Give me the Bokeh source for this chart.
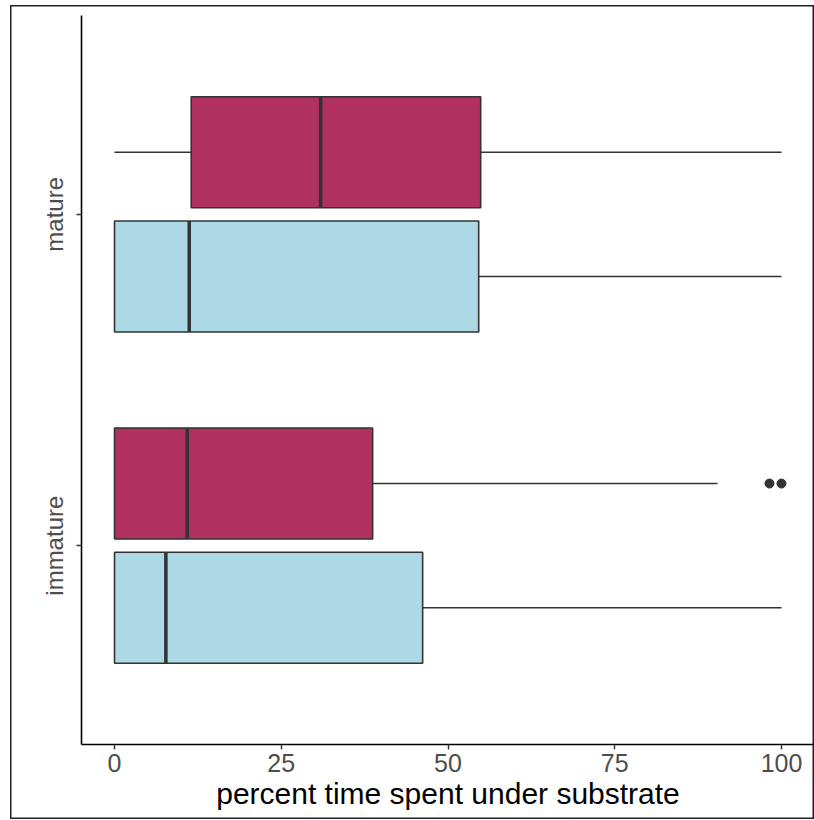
from bokeh.plotting import figure
from bokeh.models import FactorRange, Range1d, FixedTicker, ColumnDataSource, Spacer
from bokeh.layouts import column, row
from bokeh.transform import dodge
from bokeh.embed import file_html
from bokeh.resources import INLINE

# ---- data ----
groups = ["immature", "mature"]

crimson_lower = [0.0, 0.0]
crimson_q1 = [0.0, 11.5]
crimson_median = [10.9, 30.9]
crimson_q3 = [38.7, 54.9]
crimson_upper = [90.4, 100.0]
crimson_outlier_group = ["immature", "immature"]
crimson_outlier_values = [98.2, 100.0]

blue_lower = [0.0, 0.0]
blue_q1 = [0.0, 0.0]
blue_median = [7.7, 11.2]
blue_q3 = [46.2, 54.6]
blue_upper = [100.0, 100.0]

x_ticks = [0, 25, 50, 75, 100]

# ---- styling ----
CRIMSON = "#B03060"
LIGHTBLUE = "#ADD8E6"
EDGE = "#333333"
BOX_H = 0.335
OFFSET = 0.1875

p = figure(
    width=804, height=814,
    y_range=FactorRange(factors=groups, range_padding=0.1),
    x_range=Range1d(-4.95, 104.95),
    output_backend="svg", toolbar_location=None,
    min_border_left=71, min_border_top=10, min_border_right=0, min_border_bottom=75,
)
p.styles = {"box-shadow": "inset 0 0 0 1.5px #222222", "background-color": "white"}
p.outline_line_color = None
p.xgrid.grid_line_color = None
p.ygrid.grid_line_color = None
p.background_fill_color = None
p.border_fill_color = None

def draw_series(lower, q1, med, q3, upper, off, fill):
    src = ColumnDataSource(dict(group=groups, lower=lower, q1=q1, med=med, q3=q3, upper=upper))
    yc = dodge("group", off, range=p.y_range)
    y_lo = dodge("group", off - BOX_H / 2, range=p.y_range)
    y_hi = dodge("group", off + BOX_H / 2, range=p.y_range)
    # whiskers
    p.segment(x0="lower", x1="q1", y0=yc, y1=yc, source=src, line_color=EDGE, line_width=1.6)
    p.segment(x0="q3", x1="upper", y0=yc, y1=yc, source=src, line_color=EDGE, line_width=1.6)
    # box
    p.hbar(y=yc, left="q1", right="q3", height=BOX_H, source=src,
           fill_color=fill, line_color=EDGE, line_width=1.6)
    # median
    p.segment(x0="med", x1="med", y0=y_lo, y1=y_hi, source=src, line_color=EDGE, line_width=3.5)

draw_series(crimson_lower, crimson_q1, crimson_median, crimson_q3, crimson_upper, OFFSET, CRIMSON)
draw_series(blue_lower, blue_q1, blue_median, blue_q3, blue_upper, -OFFSET, LIGHTBLUE)

out_src = ColumnDataSource(dict(group=crimson_outlier_group, x=crimson_outlier_values))
p.scatter(x="x", y=dodge("group", OFFSET, range=p.y_range), source=out_src,
          size=9, fill_color=EDGE, line_color=EDGE)

# ---- axes ----
p.xaxis.ticker = FixedTicker(ticks=x_ticks)
p.xaxis.axis_label = "percent time spent under substrate"
p.xaxis.axis_label_text_font = "Liberation Sans"
p.xaxis.axis_label_text_font_size = "30px"
p.xaxis.axis_label_text_font_style = "normal"
p.xaxis.axis_label_text_color = "black"
p.xaxis.axis_label_standoff = 2

for ax in (p.xaxis, p.yaxis):
    ax.axis_line_color = "black"
    ax.axis_line_width = 1.6
    ax.major_tick_line_color = EDGE
    ax.major_tick_line_width = 1.4
    ax.major_tick_out = 5
    ax.major_tick_in = 0
    ax.minor_tick_line_color = None
    ax.major_label_text_font = "Liberation Sans"
    ax.major_label_text_color = "#4D4D4D"

p.xaxis.major_label_text_font_size = "25px"
p.xaxis.major_label_standoff = 4
p.yaxis.major_label_text_font_size = "24px"
p.yaxis.major_label_orientation = "vertical"
p.yaxis.major_label_standoff = 8

layout = column(Spacer(height=5), row(Spacer(width=10), p))

open("out.html", "w").write(file_html(layout, INLINE))
